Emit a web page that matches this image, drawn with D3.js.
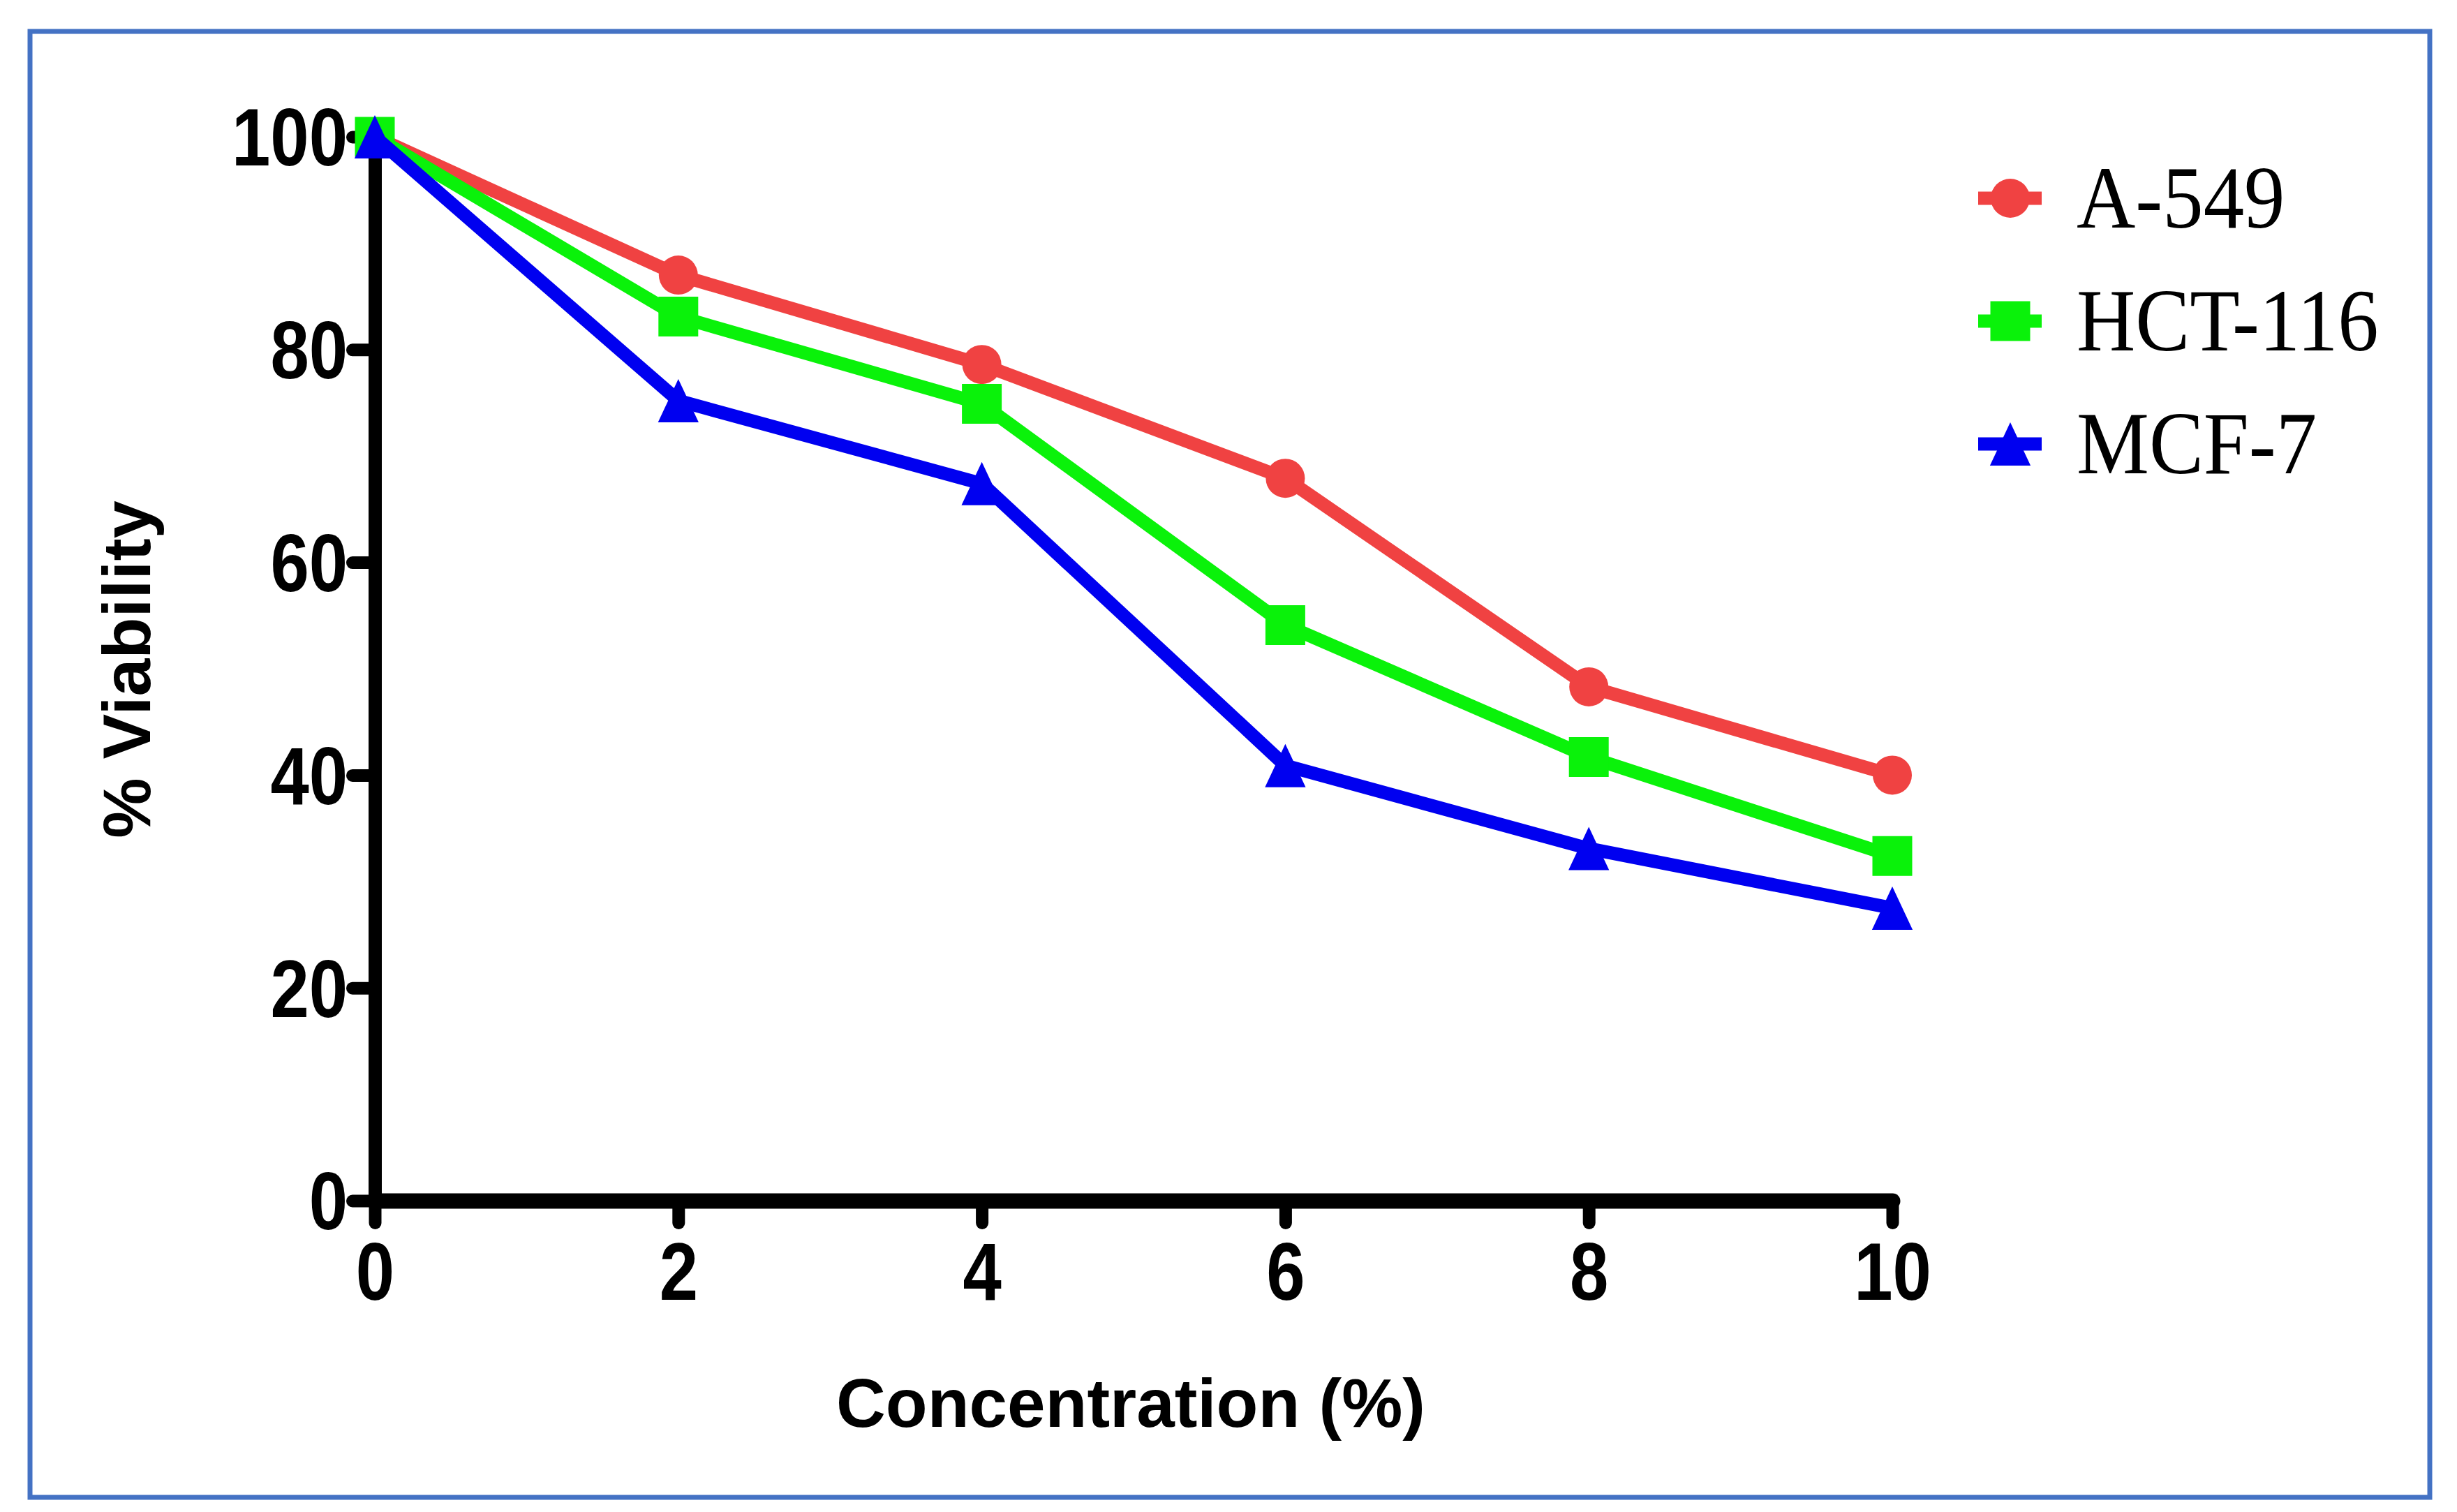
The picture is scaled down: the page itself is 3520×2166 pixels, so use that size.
<!DOCTYPE html>
<html>
<head>
<meta charset="utf-8">
<script src="https://cdn.jsdelivr.net/npm/d3@7"></script>
<style>
  html, body { margin: 0; padding: 0; background: #ffffff; }
  svg { display: block; }
</style>
</head>
<body>
<div id="svganchor"></div>
<script>
/*
------------------------------
DATA: values
------------------------------
*/
let concentrations = [0, 2, 4, 6, 8, 10];
let a549 = [100, 87.0, 78.6, 67.9, 48.3, 40.0];
let hct116 = [100, 83.1, 74.9, 54.1, 41.7, 32.4];
let mcf7 = [100, 75.2, 67.4, 40.9, 33.1, 27.5];
let seriesNames = ["A-549", "HCT-116", "MCF-7"];
let xTicks = [0, 2, 4, 6, 8, 10];
let yTicks = [0, 20, 40, 60, 80, 100];

/*
------------------------------
METHOD: set the size of the canvas
------------------------------
*/
let width = 3520;
let height = 2166;
let plot = ({left: 537, right: 2711, top: 196, bottom: 1720});

let colors = ["#f04242", "#0af20a", "#0000f0"];

// tall triangle, centred on its box like the GraphPad symbol
let tallTriangle = {
  draw: function (context, size) {
    let h = Math.sqrt(size) / 2;
    let w = h * 0.94;
    context.moveTo(0, -h);
    context.lineTo(w, h);
    context.lineTo(-w, h);
    context.closePath();
  }
};
let symbols = [
  d3.symbol().type(d3.symbolCircle).size(Math.PI * 28 * 28),
  d3.symbol().type(d3.symbolSquare).size(57 * 57),
  d3.symbol().type(tallTriangle).size(62 * 62)
];

let svg = d3.select("#svganchor")
  .append("svg")
  .attr("width", width)
  .attr("height", height);

// blue frame round the figure
svg.append("rect")
  .attr("x", 43).attr("y", 45)
  .attr("width", 3438).attr("height", 2100)
  .attr("fill", "none")
  .attr("stroke", "#4472c4")
  .attr("stroke-width", 7);

/*
------------------------------
METHOD: scales and axes
------------------------------
*/
let xScale = d3.scaleLinear().domain([0, 10]).range([plot.left, plot.right]);
let yScale = d3.scaleLinear().domain([0, 100]).range([plot.bottom, plot.top]);

let xAxis = svg.append("g")
  .attr("transform", "translate(0," + plot.bottom + ")")
  .call(d3.axisBottom(xScale).tickValues(xTicks).tickSize(32).tickSizeOuter(0).tickFormat(d3.format("d")));

let yAxis = svg.append("g")
  .attr("transform", "translate(" + plot.left + ",0)")
  .call(d3.axisLeft(yScale).tickValues(yTicks).tickSize(32).tickSizeOuter(0).tickFormat(d3.format("d")));

xAxis.select(".domain").attr("stroke", "#000").attr("stroke-width", 22).attr("stroke-linecap", "round");
yAxis.select(".domain").attr("stroke", "#000").attr("stroke-width", 19);

svg.selectAll(".tick line")
  .attr("stroke", "#000")
  .attr("stroke-width", 18)
  .attr("stroke-linecap", "round");

svg.selectAll(".tick text")
  .attr("fill", "#000")
  .attr("font-family", "'Liberation Sans', Arial, sans-serif")
  .attr("font-weight", "bold")
  .attr("font-size", 117);

xAxis.selectAll(".tick text")
  .attr("y", 142)
  .attr("dy", 0)
  .attr("transform", "scale(0.85,1)");

yAxis.selectAll(".tick text")
  .attr("x", -39 / 0.85)
  .attr("dy", "0.35em")
  .attr("transform", "scale(0.85,1)");

// axis titles
svg.append("text")
  .attr("x", (plot.left + plot.right) / 2 - 4)
  .attr("y", 2044)
  .attr("text-anchor", "middle")
  .attr("font-family", "'Liberation Sans', Arial, sans-serif")
  .attr("font-weight", "bold")
  .attr("font-size", 98)
  .text("Concentration (%)");

svg.append("text")
  .attr("transform", "translate(215,959) rotate(-90)")
  .attr("text-anchor", "middle")
  .attr("font-family", "'Liberation Sans', Arial, sans-serif")
  .attr("font-weight", "bold")
  .attr("font-size", 97)
  .text("% Viability");

/*
------------------------------
METHOD: draw the three series
------------------------------
*/
let allSeries = [a549, hct116, mcf7];

let line = d3.line()
  .x(function (d, i) { return xScale(concentrations[i]); })
  .y(function (d) { return yScale(d); });

allSeries.forEach(function (values, s) {
  let g = svg.append("g");

  g.append("path")
    .datum(values)
    .attr("d", line)
    .attr("fill", "none")
    .attr("stroke", colors[s])
    .attr("stroke-width", 19)
    .attr("stroke-linejoin", "round");

  g.selectAll(".marker")
    .data(values)
    .enter()
    .append("path")
    .attr("class", "marker")
    .attr("d", symbols[s])
    .attr("fill", colors[s])
    .attr("transform", function (d, i) {
      return "translate(" + xScale(concentrations[i]) + "," + yScale(d) + ")";
    });
});

/*
------------------------------
METHOD: legend
------------------------------
*/
let legend = svg.append("g").attr("transform", "translate(2880,284)");

seriesNames.forEach(function (name, s) {
  let row = legend.append("g").attr("transform", "translate(0," + (s * 176) + ")");

  row.append("line")
    .attr("x1", -46).attr("x2", 45)
    .attr("y1", 0).attr("y2", 0)
    .attr("stroke", colors[s])
    .attr("stroke-width", 19);

  row.append("path")
    .attr("d", symbols[s])
    .attr("fill", colors[s]);

  row.append("text")
    .attr("transform", "translate(95,42) scale(0.92,1)")
    .attr("font-family", "'Liberation Serif', 'Times New Roman', serif")
    .attr("font-size", 127)
    .attr("fill", "#000")
    .text(name);
});
</script>
</body>
</html>
